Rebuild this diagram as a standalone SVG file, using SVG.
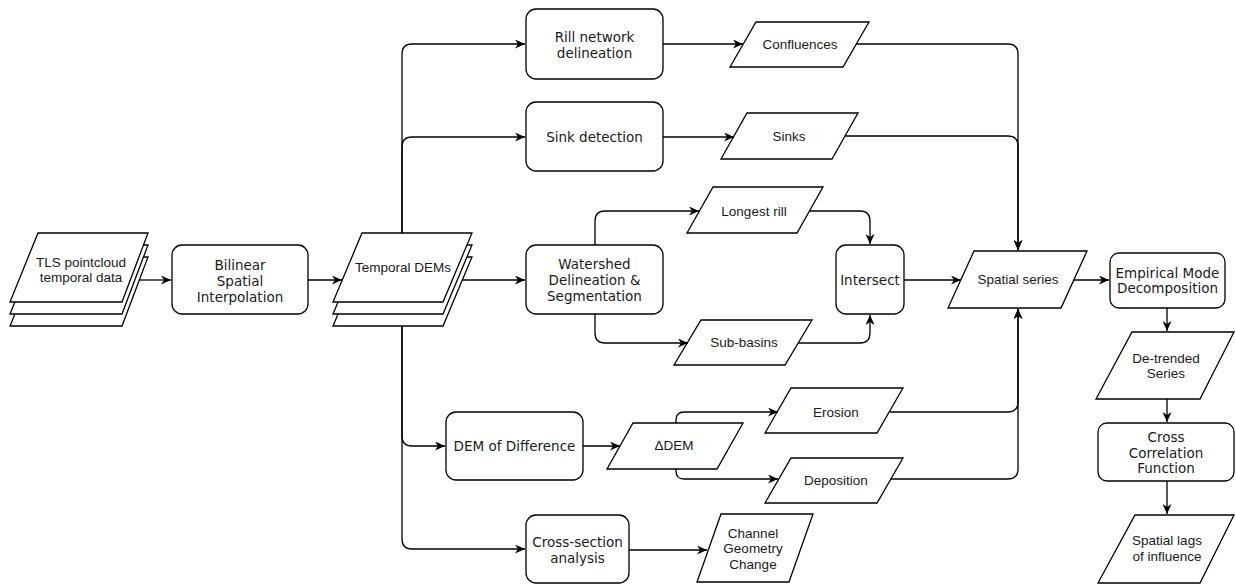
<svg xmlns="http://www.w3.org/2000/svg" width="1236" height="584" viewBox="0 0 1236 584">
<defs>
<marker id="arr" markerUnits="userSpaceOnUse" markerWidth="11" markerHeight="9" refX="10" refY="4.5" orient="auto">
<path d="M0,0 L10,4.5 L0,9 L3,4.5 Z" fill="#000"/>
</marker>
<style>
.box{fill:#fff;stroke:#000;stroke-width:1.3}
.par{fill:#fff;stroke:#000;stroke-width:1.3}
.c{fill:none;stroke:#000;stroke-width:1.3;marker-end:url(#arr)}
.tb{font-family:"DejaVu Sans",Verdana,sans-serif;font-size:13.5px;fill:#1a1a1a;text-anchor:middle}
.tp{font-family:"Liberation Sans",Arial,sans-serif;font-size:13.5px;fill:#1a1a1a;text-anchor:middle}
</style>
</defs>
<rect width="1236" height="584" fill="#fff"/>

<g id="tls">
<polygon class="par" points="38,257 148,257 122,326 10,326"/>
<polygon class="par" points="38,245 148,245 122,314 10,314"/>
<polygon class="par" points="38,233 148,233 122,302 10,302"/>
<text class="tp" x="81" y="267">TLS pointcloud</text>
<text class="tp" x="81" y="282">temporal data</text>
</g>
<g id="bilinear">
<rect class="box" x="172" y="245" width="136" height="69" rx="10"/>
<text class="tb" x="240" y="270">Bilinear</text>
<text class="tb" x="240" y="286">Spatial</text>
<text class="tb" x="240" y="302">Interpolation</text>
</g>
<g id="temporal">
<polygon class="par" points="362,257 472,257 443,326 333,326"/>
<polygon class="par" points="362,245 472,245 443,314 333,314"/>
<polygon class="par" points="362,233 472,233 443,302 333,302"/>
<text class="tp" x="403" y="272">Temporal DEMs</text>
</g>
<g id="rill">
<rect class="box" x="526" y="9" width="137" height="70" rx="10"/>
<text class="tb" x="594.5" y="42">Rill network</text>
<text class="tb" x="594.5" y="58">delineation</text>
</g>
<g id="sink">
<rect class="box" x="526" y="102" width="137" height="69" rx="10"/>
<text class="tb" x="594.5" y="142">Sink detection</text>
</g>
<g id="watershed">
<rect class="box" x="526" y="245" width="137" height="69" rx="10"/>
<text class="tb" x="594.5" y="269">Watershed</text>
<text class="tb" x="594.5" y="285">Delineation &amp;</text>
<text class="tb" x="594.5" y="301">Segmentation</text>
</g>
<g id="confluences">
<polygon class="par" points="756,22 869,22 843,67 730,67"/>
<text class="tp" x="800" y="49">Confluences</text>
</g>
<g id="sinks">
<polygon class="par" points="747,113 858,113 832,159 721,159"/>
<text class="tp" x="789" y="141">Sinks</text>
</g>
<g id="longest">
<polygon class="par" points="713,187 823,187 797,233 687,233"/>
<text class="tp" x="754" y="216">Longest rill</text>
</g>
<g id="subbasins">
<polygon class="par" points="701,320 812,320 785,365 674,365"/>
<text class="tp" x="744" y="347">Sub-basins</text>
</g>
<g id="intersect">
<rect class="box" x="836" y="245" width="68" height="69" rx="10"/>
<text class="tb" x="870" y="285">Intersect</text>
</g>
<g id="spatial">
<polygon class="par" points="974,251 1087,251 1061,308 948,308"/>
<text class="tp" x="1018" y="284">Spatial series</text>
</g>
<g id="emd">
<rect class="box" x="1110" y="253" width="115" height="55" rx="9"/>
<text class="tb" x="1167.5" y="278">Empirical Mode</text>
<text class="tb" x="1167.5" y="293">Decomposition</text>
</g>
<g id="detrended">
<polygon class="par" points="1132,332 1234,332 1200,399 1096,399"/>
<text class="tp" x="1166" y="363">De-trended</text>
<text class="tp" x="1166" y="378">Series</text>
</g>
<g id="ccf">
<rect class="box" x="1098" y="423" width="136" height="58" rx="9"/>
<text class="tb" x="1166" y="442">Cross</text>
<text class="tb" x="1166" y="458">Correlation</text>
<text class="tb" x="1166" y="473">Function</text>
</g>
<g id="lags">
<polygon class="par" points="1135,515 1234,515 1200,583 1098,583"/>
<text class="tp" x="1167" y="545">Spatial lags</text>
<text class="tp" x="1167" y="561">of influence</text>
</g>
<g id="demod">
<rect class="box" x="446" y="412" width="137" height="68" rx="10"/>
<text class="tb" x="514.5" y="451">DEM of Difference</text>
</g>
<g id="ddem">
<polygon class="par" points="633,423 743,423 717,469 607,469"/>
<text class="tp" x="674" y="450">ΔDEM</text>
</g>
<g id="erosion">
<polygon class="par" points="791,388 903,388 877,433 765,433"/>
<text class="tp" x="836" y="417">Erosion</text>
</g>
<g id="deposition">
<polygon class="par" points="791,458 903,458 877,503 765,503"/>
<text class="tp" x="836" y="485">Deposition</text>
</g>
<g id="crosssection">
<rect class="box" x="526" y="515" width="103" height="68" rx="10"/>
<text class="tb" x="577.5" y="547">Cross-section</text>
<text class="tb" x="577.5" y="563">analysis</text>
</g>
<g id="channel">
<polygon class="par" points="721,514 813,514 789,582 697,582"/>
<text class="tp" x="753" y="538">Channel</text>
<text class="tp" x="753" y="553">Geometry</text>
<text class="tp" x="753" y="569">Change</text>
</g>

<g id="connectors">
<path class="c" d="M139,280 H171"/>
<path class="c" d="M308,280 H342"/>
<path class="c" d="M402,233 V54 Q402,44 412,44 H525"/>
<path class="c" d="M402,233 V147 Q402,137 412,137 H525"/>
<path class="c" d="M462,280 H525"/>
<path class="c" d="M402,326 V436 Q402,446 412,446 H445"/>
<path class="c" d="M402,326 V539 Q402,549 412,549 H525"/>
<path class="c" d="M663,44 H743"/>
<path class="c" d="M663,137 H734"/>
<path class="c" d="M856,44 H1008 Q1018,44 1018,54 V250"/>
<path class="c" d="M845,136 H1008 Q1018,136 1018,146 V250"/>
<path class="c" d="M595,245 V221 Q595,211 605,211 H699"/>
<path class="c" d="M595,314 V333 Q595,343 605,343 H688"/>
<path class="c" d="M810,211 H860 Q870,211 870,221 V244"/>
<path class="c" d="M799,343 H860 Q870,343 870,333 V315"/>
<path class="c" d="M904,280 H961"/>
<path class="c" d="M583,446 H620"/>
<path class="c" d="M676,423 V420 Q676,412 684,412 H778"/>
<path class="c" d="M676,469 V471 Q676,479 684,479 H778"/>
<path class="c" d="M890,412 H1008 Q1018,412 1018,402 V309"/>
<path class="c" d="M890,479 H1008 Q1018,479 1018,469 V309"/>
<path class="c" d="M629,550 H707"/>
<path class="c" d="M1074,280 H1109"/>
<path class="c" d="M1167,308 V331"/>
<path class="c" d="M1167,399 V422"/>
<path class="c" d="M1167,481 V514"/>
</g>
</svg>
